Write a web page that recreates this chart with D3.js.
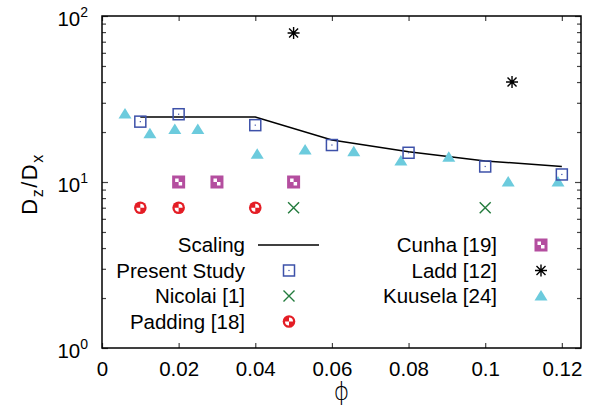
<!DOCTYPE html>
<html><head><meta charset="utf-8">
<script src="https://cdn.jsdelivr.net/npm/d3@7"></script>
<style>body{margin:0;background:#fff}svg{display:block;font-family:"Liberation Sans",Arial,sans-serif}</style>
</head><body><svg id="c" width="599" height="413"></svg>
<script>
// ---- data ----
const scalingPhi = [0.01, 0.04, 0.06, 0.08, 0.10, 0.12];
const scalingVal = [24.6, 24.6, 17.9, 15.2, 13.4, 12.4];
const presentPhi = [0.01, 0.02, 0.04, 0.06, 0.08, 0.10, 0.12];
const presentVal = [23.1, 25.6, 22.0, 16.7, 15.0, 12.4, 11.1];
const nicolaiPhi = [0.05, 0.10];
const nicolaiVal = [7.0, 7.0];
const paddingPhi = [0.01, 0.02, 0.04];
const paddingVal = [7.0, 7.0, 7.0];
const cunhaPhi = [0.02, 0.03, 0.05];
const cunhaVal = [10.0, 10.0, 10.0];
const laddPhi = [0.05, 0.107];
const laddVal = [79, 40];
const kuuselaPhi = [0.006, 0.0125, 0.019, 0.025, 0.0405, 0.053, 0.0657, 0.078, 0.0905, 0.106, 0.119];
const kuuselaVal = [25.7, 19.5, 20.7, 20.7, 14.7, 15.6, 15.2, 13.4, 14.1, 10.0, 10.0];
const xTicks = [0, 0.02, 0.04, 0.06, 0.08, 0.1, 0.12];
const yTicks = [1, 10, 100];
const legendCol1 = ["Scaling", "Present Study", "Nicolai [1]", "Padding [18]"];
const legendCol2 = ["Cunha [19]", "Ladd [12]", "Kuusela [24]"];

const C = {blue:"#3d51a9", green:"#237b3d", red:"#e41d25", mag:"#b44e9f", cyan:"#6ccbdd"};

const svg = d3.select("#c");
const L = 102, R = 581, T = 16, B = 348;
const x = d3.scaleLinear().domain([0, 0.125]).range([L, R]);
const y = d3.scaleLog().domain([1, 100]).range([B, T]);

const minor = [];
[1, 10].forEach(d => { for (let k = 2; k <= 9; k++) minor.push(d * k); });

// axes
const fs = 20.5;
const gx = svg.append("g").attr("transform", `translate(0,${B})`)
  .call(d3.axisBottom(x).tickValues(xTicks).tickFormat(d => d === 0 ? "0" : String(+d.toFixed(2))).tickSizeInner(-5).tickSizeOuter(0).tickPadding(13));
gx.select(".domain").remove();
gx.selectAll("text").attr("font-size", fs).attr("font-family", "Liberation Sans, Arial, sans-serif").attr("fill", "#000");
const gxt = svg.append("g").attr("transform", `translate(0,${T})`)
  .call(d3.axisTop(x).tickValues(xTicks).tickFormat("").tickSizeInner(-5).tickSizeOuter(0));
gxt.select(".domain").remove();

const gy = svg.append("g").attr("transform", `translate(${L},0)`)
  .call(d3.axisLeft(y).tickValues(yTicks).tickFormat("").tickSizeInner(-6).tickSizeOuter(0));
gy.select(".domain").remove();
gy.selectAll(".tick").append("text")
  .attr("x", -14).attr("y", 9).attr("text-anchor", "end").attr("fill", "#000")
  .attr("font-size", fs)
  .each(function(d) {
    const t = d3.select(this);
    t.append("tspan").text("10");
    t.append("tspan").attr("font-size", 14).attr("dy", -9).text(String(Math.round(Math.log10(d))));
  });
const gym = svg.append("g").attr("transform", `translate(${L},0)`)
  .call(d3.axisLeft(y).tickValues(minor).tickFormat("").tickSizeInner(-4).tickSizeOuter(0));
gym.select(".domain").remove();
const gyr = svg.append("g").attr("transform", `translate(${R},0)`)
  .call(d3.axisRight(y).tickValues(yTicks).tickFormat("").tickSizeInner(-6).tickSizeOuter(0));
gyr.select(".domain").remove();
const gyrm = svg.append("g").attr("transform", `translate(${R},0)`)
  .call(d3.axisRight(y).tickValues(minor).tickFormat("").tickSizeInner(-4).tickSizeOuter(0));
gyrm.select(".domain").remove();
svg.selectAll(".tick line").attr("stroke", "#444").attr("stroke-width", 1.2);

svg.append("rect").attr("x", L).attr("y", T).attr("width", R - L).attr("height", B - T)
  .attr("fill", "none").attr("stroke", "#000").attr("stroke-width", 1.5);

// axis titles
svg.append("text").attr("x", x(0.0625)).attr("y", 400).attr("text-anchor", "middle")
  .attr("font-size", 24).attr("font-family", "DejaVu Sans, sans-serif").attr("font-weight", 300).text("ϕ");
const yt = svg.append("text").attr("transform", "translate(37,184) rotate(-90)")
  .attr("text-anchor", "middle").attr("font-size", 22).attr("letter-spacing", 1.5);
yt.append("tspan").text("D");
yt.append("tspan").attr("font-size", 16).attr("dy", 6).text("z");
yt.append("tspan").attr("dy", -6).text("/D");
yt.append("tspan").attr("font-size", 16).attr("dy", 6).text("x");

// marker drawers
function squareOpen(g, cx, cy) {
  g.append("rect").attr("x", cx - 5.5).attr("y", cy - 5.5).attr("width", 11).attr("height", 11)
    .attr("fill", "none").attr("stroke", C.blue).attr("stroke-width", 1.5);
  g.append("rect").attr("x", cx - 0.6).attr("y", cy - 0.6).attr("width", 1.2).attr("height", 1.2).attr("fill", C.blue);
}
function cross(g, cx, cy) {
  const s = 5.5;
  g.append("path").attr("d", `M${cx - s},${cy - s}L${cx + s},${cy + s}M${cx - s},${cy + s}L${cx + s},${cy - s}`)
    .attr("stroke", C.green).attr("stroke-width", 1.4).attr("fill", "none");
}
function circ(g, cx, cy) {
  g.append("circle").attr("cx", cx).attr("cy", cy).attr("r", 6.3).attr("fill", C.red);
  g.append("path").attr("d", `M${cx},${cy}L${cx},${cy - 4}A4,4 0 0 1 ${cx + 4},${cy}Z`).attr("fill", "#fff");
  g.append("path").attr("d", `M${cx},${cy}L${cx},${cy + 4}A4,4 0 0 1 ${cx - 4},${cy}Z`).attr("fill", "#fff");
}
function sqFill(g, cx, cy) {
  g.append("rect").attr("x", cx - 6.5).attr("y", cy - 6.5).attr("width", 13).attr("height", 13).attr("fill", C.mag);
  g.append("rect").attr("x", cx - 3.5).attr("y", cy - 3.5).attr("width", 3.5).attr("height", 3.5).attr("fill", "#fff");
  g.append("rect").attr("x", cx).attr("y", cy).attr("width", 3.5).attr("height", 3.5).attr("fill", "#fff");
}
function star(g, cx, cy) {
  const s = 6, d = 4.5;
  g.append("path").attr("d", `M${cx - s},${cy}L${cx + s},${cy}M${cx},${cy - s}L${cx},${cy + s}M${cx - d},${cy - d}L${cx + d},${cy + d}M${cx - d},${cy + d}L${cx + d},${cy - d}`)
    .attr("stroke", "#000").attr("stroke-width", 1.4).attr("fill", "none");
}
function tri(g, cx, cy) {
  g.append("path").attr("d", `M${cx},${cy - 6}L${cx + 6.5},${cy + 4.5}L${cx - 6.5},${cy + 4.5}Z`).attr("fill", C.cyan);
}

// scaling line
const line = d3.line().x(d => x(d[0])).y(d => y(d[1]));
svg.append("path").datum(d3.zip(scalingPhi, scalingVal)).attr("d", line)
  .attr("fill", "none").attr("stroke", "#000").attr("stroke-width", 1.5);

const pts = svg.append("g");
function plot(phis, vals, fn) { phis.forEach((p, i) => fn(pts, x(p), y(vals[i]))); }
plot(kuuselaPhi, kuuselaVal, tri);
plot(presentPhi, presentVal, squareOpen);
plot(nicolaiPhi, nicolaiVal, cross);
plot(paddingPhi, paddingVal, circ);
plot(cunhaPhi, cunhaVal, sqFill);
plot(laddPhi, laddVal, star);

// legend
const lg = svg.append("g").attr("font-size", fs);
const rowY = [245, 270.5, 296, 321.5];
const col1 = [null, squareOpen, cross, circ];
legendCol1.forEach((t, i) => {
  lg.append("text").attr("x", 245).attr("y", rowY[i] + 7).attr("text-anchor", "end").text(t);
  if (i === 0) lg.append("line").attr("x1", 258).attr("x2", 319).attr("y1", rowY[0]).attr("y2", rowY[0]).attr("stroke", "#000").attr("stroke-width", 1.5);
  else col1[i](lg, 289, rowY[i]);
});
const col2 = [sqFill, star, tri];
legendCol2.forEach((t, i) => {
  lg.append("text").attr("x", 497).attr("y", rowY[i] + 7).attr("text-anchor", "end").text(t);
  col2[i](lg, 541, rowY[i]);
});
</script></body></html>
